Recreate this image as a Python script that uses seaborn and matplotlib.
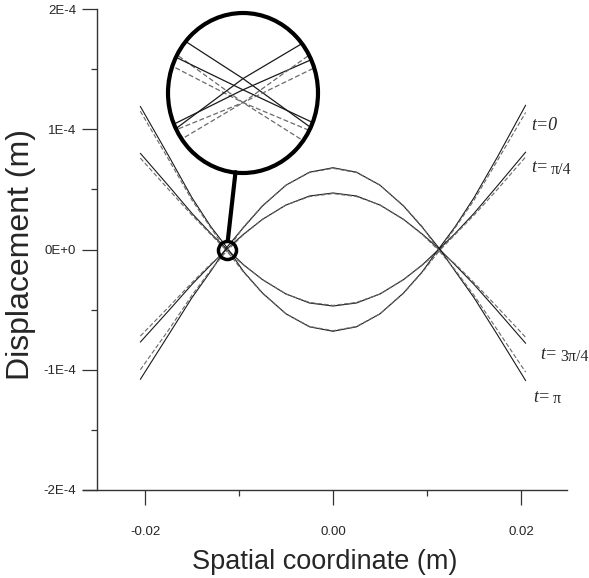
import pandas as pd
import matplotlib
matplotlib.use("Agg")
import matplotlib.pyplot as plt
from matplotlib.patches import Ellipse, ConnectionPatch
from matplotlib.ticker import FixedLocator, FixedFormatter
import seaborn as sns

# spatial positions (m)
x_pos = [-0.0205, -0.0175, -0.015, -0.013, -0.0113, -0.0095, -0.0075, -0.005, -0.0025, 0.0,
         0.0025, 0.005, 0.0075, 0.0095, 0.0113, 0.013, 0.015, 0.0175, 0.0205]

# displacement in units of 1E-4 m
t0_solid = [1.19, 0.78, 0.43, 0.19, 0.018, -0.185, -0.362, -0.535, -0.643, -0.68,
            -0.643, -0.535, -0.362, -0.185, 0.01, 0.19, 0.43, 0.77, 1.20]
t0_dash = [1.15, 0.75, 0.41, 0.18, -0.012, -0.19, -0.365, -0.535, -0.64, -0.675,
           -0.64, -0.535, -0.365, -0.19, -0.012, 0.18, 0.41, 0.74, 1.14]
tq_solid = [0.80, 0.53, 0.30, 0.133, 0.004, -0.128, -0.251, -0.370, -0.445, -0.47,
            -0.445, -0.370, -0.251, -0.128, 0.004, 0.133, 0.30, 0.53, 0.81]
tq_dash = [0.76, 0.50, 0.285, 0.125, -0.012, -0.13, -0.25, -0.37, -0.44, -0.465,
           -0.44, -0.37, -0.25, -0.13, -0.012, 0.125, 0.285, 0.50, 0.77]
t3q_solid = [-0.77, -0.51, -0.29, -0.128, 0.004, 0.128, 0.251, 0.370, 0.445, 0.47,
             0.445, 0.370, 0.251, 0.128, 0.004, -0.128, -0.29, -0.51, -0.78]
t3q_dash = [-0.72, -0.48, -0.275, -0.12, -0.012, 0.125, 0.25, 0.37, 0.44, 0.465,
            0.44, 0.37, 0.25, 0.125, -0.012, -0.12, -0.275, -0.48, -0.73]
tp_solid = [-1.08, -0.71, -0.40, -0.18, 0.018, 0.185, 0.362, 0.535, 0.643, 0.68,
            0.643, 0.535, 0.362, 0.185, 0.01, -0.18, -0.40, -0.71, -1.09]
tp_dash = [-1.00, -0.67, -0.38, -0.17, -0.012, 0.19, 0.365, 0.535, 0.64, 0.675,
           0.64, 0.535, 0.365, 0.19, -0.012, -0.17, -0.38, -0.67, -1.02]

x_ticks = [-0.02, 0.0, 0.02]
x_tick_labels = ["-0.02", "0.00", "0.02"]
y_ticks = [-2e-4, -1e-4, 0.0, 1e-4, 2e-4]
y_tick_labels = ["-2E-4", "-1E-4", "0E+0", "1E-4", "2E-4"]

# curve labels: (x, y in 1E-4 m, italic part, upright part)
curve_labels = [
    (0.0211, 1.035, "t=0", ""),
    (0.0211, 0.68, "t=", "\u03c0/4"),
    (0.0221, -0.877, "t=", "3\u03c0/4"),
    (0.0213, -1.227, "t=", "\u03c0"),
]

curves = {
    "t0_solid": (t0_solid, "solid"), "t0_dash": (t0_dash, "dashed"),
    "tq_solid": (tq_solid, "solid"), "tq_dash": (tq_dash, "dashed"),
    "t3q_solid": (t3q_solid, "solid"), "t3q_dash": (t3q_dash, "dashed"),
    "tp_solid": (tp_solid, "solid"), "tp_dash": (tp_dash, "dashed"),
}
rows = []
for name, (vals, kind) in curves.items():
    for xv, yv in zip(x_pos, vals):
        rows.append({"x": xv, "y": yv * 1e-4, "curve": name, "kind": kind})
df = pd.DataFrame(rows)
palette = {n: ("#1a1a1a" if k == "solid" else "#6a6a6a") for n, (v, k) in curves.items()}
dashes = {"solid": "", "dashed": (4, 2)}

sns.set_style("white")
plt.rcParams["font.family"] = ["Liberation Sans", "DejaVu Sans"]

W, H = 589, 578
fig = plt.figure(figsize=(W / 100, H / 100), dpi=100)
ax = fig.add_axes([83 / W, (H - 490) / H, (567 - 83) / W, (490 - 9) / H])

sns.lineplot(data=df, x="x", y="y", hue="curve", style="kind", palette=palette,
             dashes=dashes, estimator=None, sort=False, legend=False, lw=0.8, ax=ax)

ax.set_xlim(-0.0266, 0.0249)
ax.set_ylim(-2e-4, 2e-4)
for s in ["top", "right"]:
    ax.spines[s].set_visible(False)
ax.spines["left"].set_position(("data", -0.0251))
for s in ["left", "bottom"]:
    ax.spines[s].set_color("#333333")
    ax.spines[s].set_linewidth(1.0)

ax.xaxis.set_major_locator(FixedLocator(x_ticks))
ax.xaxis.set_major_formatter(FixedFormatter(x_tick_labels))
ax.xaxis.set_minor_locator(FixedLocator([-0.01, 0.01]))
ax.yaxis.set_major_locator(FixedLocator(y_ticks))
ax.yaxis.set_major_formatter(FixedFormatter(y_tick_labels))
ax.yaxis.set_minor_locator(FixedLocator([-1.5e-4, -0.5e-4, 0.5e-4, 1.5e-4]))
ax.tick_params(which="major", direction="out", length=11, width=0.9, color="#333333",
               labelsize=9.5)
ax.tick_params(which="minor", direction="out", length=4.5, width=0.9, color="#333333")
ax.tick_params(axis="x", which="major", pad=15)
ax.tick_params(axis="y", which="major", pad=4)
ax.tick_params(left=True, bottom=True, which="both")

ax.set_xlabel("Spatial coordinate (m)", fontsize=19.5)
ax.set_ylabel("Displacement (m)", fontsize=23)
ax.xaxis.set_label_coords(0.5, -0.122)
ax.yaxis.set_label_coords(-0.098, 0.49)

# curve labels: italic "t=" followed by upright smaller part
serif = ["Liberation Serif", "DejaVu Serif"]
for lx, ly, ital, rest in curve_labels:
    t1 = ax.text(lx, ly * 1e-4, ital, family=serif, style="italic", fontsize=13,
                 va="center", ha="left")
    if rest:
        ax.annotate(rest, xy=(1, 0.5), xycoords=t1, xytext=(2, -1.5),
                    textcoords="offset points", family=serif, fontsize=11.5,
                    va="center", ha="left")

# node marker (small circle)
node_x = x_pos[4]
node_y = 0.0
ax.plot([node_x], [node_y], marker="o", ms=13, mfc="none", mec="black", mew=2.5)

# magnified inset
ax_in = fig.add_axes([(243 - 75) / W, (H - 93 - 80) / H, 150 / W, 160 / H])
ax_in.set_axis_off()
bg = Ellipse((0.5, 0.5), 1, 1, transform=ax_in.transAxes, fc="white", ec="none", zorder=0)
ax_in.add_patch(bg)
sns.lineplot(data=df, x="x", y="y", hue="curve", style="kind", palette=palette,
             dashes=dashes, estimator=None, sort=False, legend=False, lw=0.9, ax=ax_in)
ax_in.set_xlim(node_x - 0.0006, node_x + 0.0006)
ax_in.set_ylim(-0.10e-4, 0.10e-4)
for ln in ax_in.lines:
    ln.set_clip_path(bg)
border = Ellipse((0.5, 0.5), 1, 1, transform=ax_in.transAxes, fill=False, ec="black",
                 lw=3, clip_on=False, zorder=5)
ax_in.add_patch(border)

con = ConnectionPatch(xyA=(node_x, node_y), coordsA=ax.transData,
                      xyB=(0.45, 0.005), coordsB=ax_in.transAxes,
                      arrowstyle="-", lw=3, color="black", shrinkA=6.5, shrinkB=0)
fig.add_artist(con)

fig.savefig("out.png", dpi=100)
plt.close(fig)
